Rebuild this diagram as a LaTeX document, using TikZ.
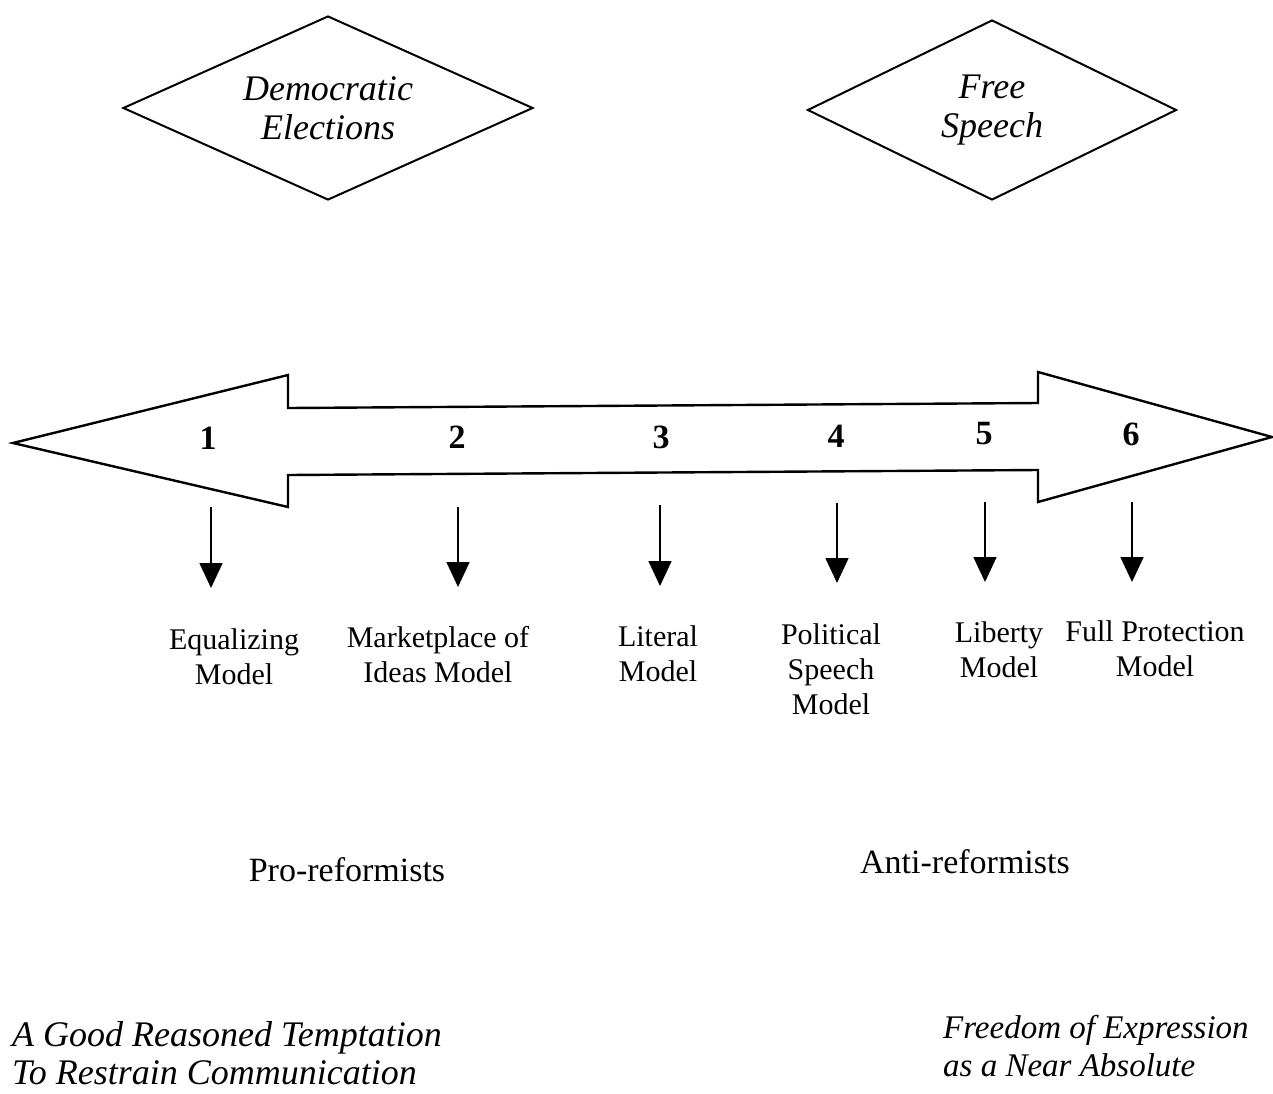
\documentclass[tikz,border=0pt]{standalone}
\usepackage{fontspec}
\setmainfont{Liberation Serif}
\usetikzlibrary{shapes.geometric,arrows.meta}

\begin{document}
\begin{tikzpicture}[x=1pt,y=-1pt,
        dmd/.style={diamond, draw, line width=2pt, aspect=2.2, align=center, inner sep=0pt, font=\fontsize{36}{39}\selectfont\itshape},
        num/.style={font=\fontsize{34}{34}\selectfont\bfseries},
        lbl/.style={align=center, inner sep=0pt, font=\fontsize{30}{35}\selectfont},
        dn/.style={line width=1.6pt, -{Triangle[width=23pt,length=25pt]}},
        side/.style={inner sep=0pt, font=\fontsize{34}{38}\selectfont},
        motto/.style={align=left, anchor=west, inner sep=0pt}]
        \useasboundingbox (0,0) rectangle (1273,1093);
        \fill[white] (0,0) rectangle (1273,1093);

        \node[dmd, minimum width=410pt, minimum height=184pt] (elect) at (328,108) {Democratic\\ Elections};
        \node[dmd, minimum width=369pt, minimum height=180pt] (speech) at (992,110) {Free\\ Speech};

        % the scale
        \draw[line width=2.4pt, line join=miter] (13,443) -- (288,375) -- (288,408) -- (1038,403) -- (1038,372) -- (1272,437)
            -- (1038,502) -- (1038,470) -- (288,475) -- (288,507) -- cycle;
        \node[num] (n1) at (208,438) {1};
        \node[num] (n2) at (457,437) {2};
        \node[num] (n3) at (661,437) {3};
        \node[num] (n4) at (836,436) {4};
        \node[num] (n5) at (984,434) {5};
        \node[num] (n6) at (1131,434) {6};

        \coordinate (t1) at (211,507); \coordinate (h1) at (211,588);
        \coordinate (t2) at (458,507); \coordinate (h2) at (458,587);
        \coordinate (t3) at (660,505); \coordinate (h3) at (660,586);
        \coordinate (t4) at (837,503); \coordinate (h4) at (837,583);
        \coordinate (t5) at (985,502); \coordinate (h5) at (985,582);
        \coordinate (t6) at (1132,502); \coordinate (h6) at (1132,582);
        \draw[dn] (t1) -- (h1);
        \draw[dn] (t2) -- (h2);
        \draw[dn] (t3) -- (h3);
        \draw[dn] (t4) -- (h4);
        \draw[dn] (t5) -- (h5);
        \draw[dn] (t6) -- (h6);

        \node[lbl] (equal) at (234,657) {Equalizing\\ Model};
        \node[lbl] (market) at (438,655) {Marketplace of\\ Ideas Model};
        \node[lbl] (literal) at (658,654) {Literal\\ Model};
        \node[lbl] (polit) at (831,669) {Political\\ Speech\\ Model};
        \node[lbl] (liberty) at (999,650) {Liberty\\ Model};
        \node[lbl] (full) at (1155,649) {Full Protection\\ Model};

        \node[side] (pro) at (347,870) {Pro-reformists};
        \node[side] (anti) at (965,862) {Anti-reformists};

        \node[motto, font=\fontsize{36}{38}\selectfont\itshape] (tempt) at (12,1053) {A Good Reasoned Temptation\\ To Restrain Communication};
        \node[motto, font=\fontsize{33}{38}\selectfont\itshape] (freedom) at (943,1046) {Freedom of Expression\\ as a Near Absolute};
    \end{tikzpicture}
\end{document}
